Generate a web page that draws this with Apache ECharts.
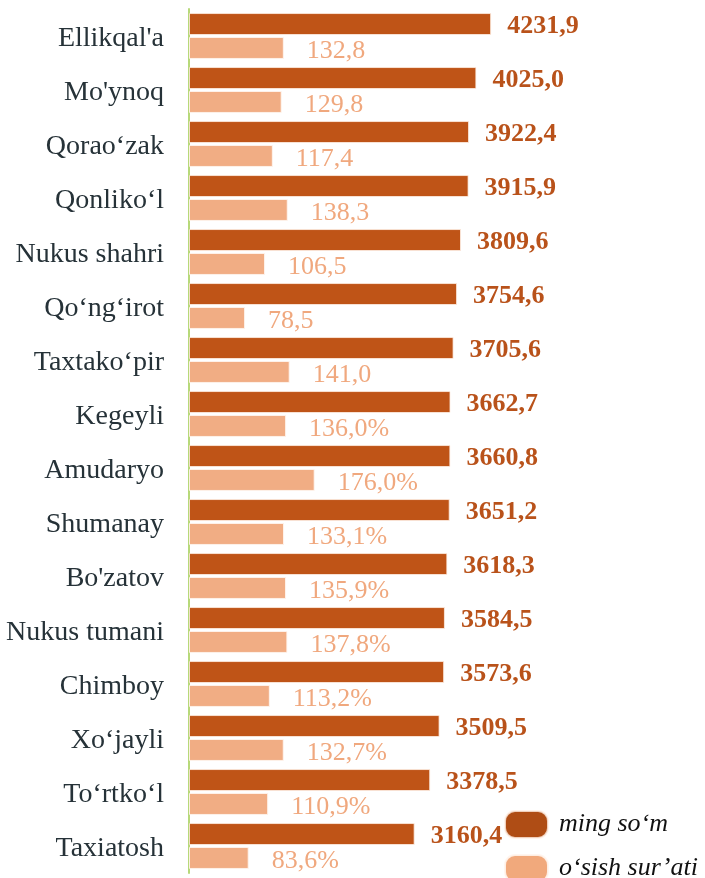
<!DOCTYPE html>
<html>
<head>
<meta charset="utf-8">
<script src="https://cdn.jsdelivr.net/npm/echarts@6/dist/echarts.min.js"></script>
<style>
    html,body{margin:0;padding:0;background:#fff;}
    #chart{width:705px;height:878px;}
</style>
</head>
<body>
<div id="chart"></div>
<script>
var categories=["Ellikqal'a","Mo'ynoq","Qorao‘zak","Qonliko‘l","Nukus shahri","Qo‘ng‘irot","Taxtako‘pir","Kegeyli","Amudaryo","Shumanay","Bo'zatov","Nukus tumani","Chimboy","Xo‘jayli","To‘rtko‘l","Taxiatosh"];
var income=[4231.9,4025.0,3922.4,3915.9,3809.6,3754.6,3705.6,3662.7,3660.8,3651.2,3618.3,3584.5,3573.6,3509.5,3378.5,3160.4];
var growth=[132.8,129.8,117.4,138.3,106.5,78.5,141.0,136.0,176.0,133.1,135.9,137.8,113.2,132.7,110.9,83.6];
// the source shows "%" only from Kegeyli downwards
var growthUnit=["","","","","","","","%","%","%","%","%","%","%","%","%"];
var seriesNames=["ming so‘m","o‘sish sur’ati"];

var serif='"Liberation Serif","Times New Roman",serif';
var pill='path://M10,0 H33 A10,10 0 0 1 43,10 V17 A10,10 0 0 1 33,27 H10 A10,10 0 0 1 0,17 V10 A10,10 0 0 1 10,0 Z';

function fmt(v){
    return v.toFixed(1).replace('.',',');
}

var myChart=echarts.init(document.getElementById('chart'));
var option={
    animation:false,
    grid:{
        left:189,
        right:159,
        top:9,
        bottom:5
    },
    legend:{
        orient:'vertical',
        left:504,
        top:810,
        height:100,
        padding:0,
        itemWidth:43,
        itemHeight:27,
        itemGap:15,
        icon:pill,
        data:[
            {name:seriesNames[0],itemStyle:{color:'#AF4D15'}},
            {name:seriesNames[1],itemStyle:{color:'#F1A97C'}}
        ],
        textStyle:{
            fontFamily:serif,
            fontStyle:'italic',
            fontSize:26,
            color:'#111',
            padding:[0,0,0,6]
        }
    },
    xAxis:[
        {type:'value',min:0,max:5000,show:false},
        {type:'value',min:0,max:500,show:false}
    ],
    yAxis:{
        type:'category',
        inverse:true,
        data:categories,
        axisLine:{show:true,lineStyle:{color:'#B7D97A',width:2}},
        axisTick:{show:false},
        splitLine:{show:false},
        axisLabel:{
            margin:25,
            formatter:function(v){return '{c|'+v+'}';},
            rich:{
                c:{
                    fontFamily:serif,
                    fontSize:28,
                    color:'#263238',
                    padding:[6,0,0,0]
                }
            }
        }
    },
    series:[
        {
            name:seriesNames[0],
            type:'bar',
            xAxisIndex:0,
            data:income,
            barCategoryGap:'15%',
            barGap:'9%',
            itemStyle:{color:'#BF5417',borderColor:'rgba(255,240,230,0.8)',borderWidth:1},
            label:{
                show:true,
                position:'right',
                distance:16,
                fontFamily:serif,
                fontWeight:'bold',
                fontSize:26,
                color:'#B9521A',
                offset:[0,2],
                formatter:function(p){return fmt(p.value);}
            }
        },
        {
            name:seriesNames[1],
            type:'bar',
            xAxisIndex:1,
            data:growth,
            barCategoryGap:'15%',
            barGap:'9%',
            itemStyle:{color:'#F1AD84',borderColor:'rgba(255,245,238,0.9)',borderWidth:1},
            label:{
                show:true,
                position:'right',
                distance:23,
                fontFamily:serif,
                fontSize:26,
                color:'#F0A87E',
                offset:[0,3],
                formatter:function(p){return fmt(p.value)+growthUnit[p.dataIndex];}
            }
        }
    ]
};
myChart.setOption(option);
</script>
</body>
</html>
